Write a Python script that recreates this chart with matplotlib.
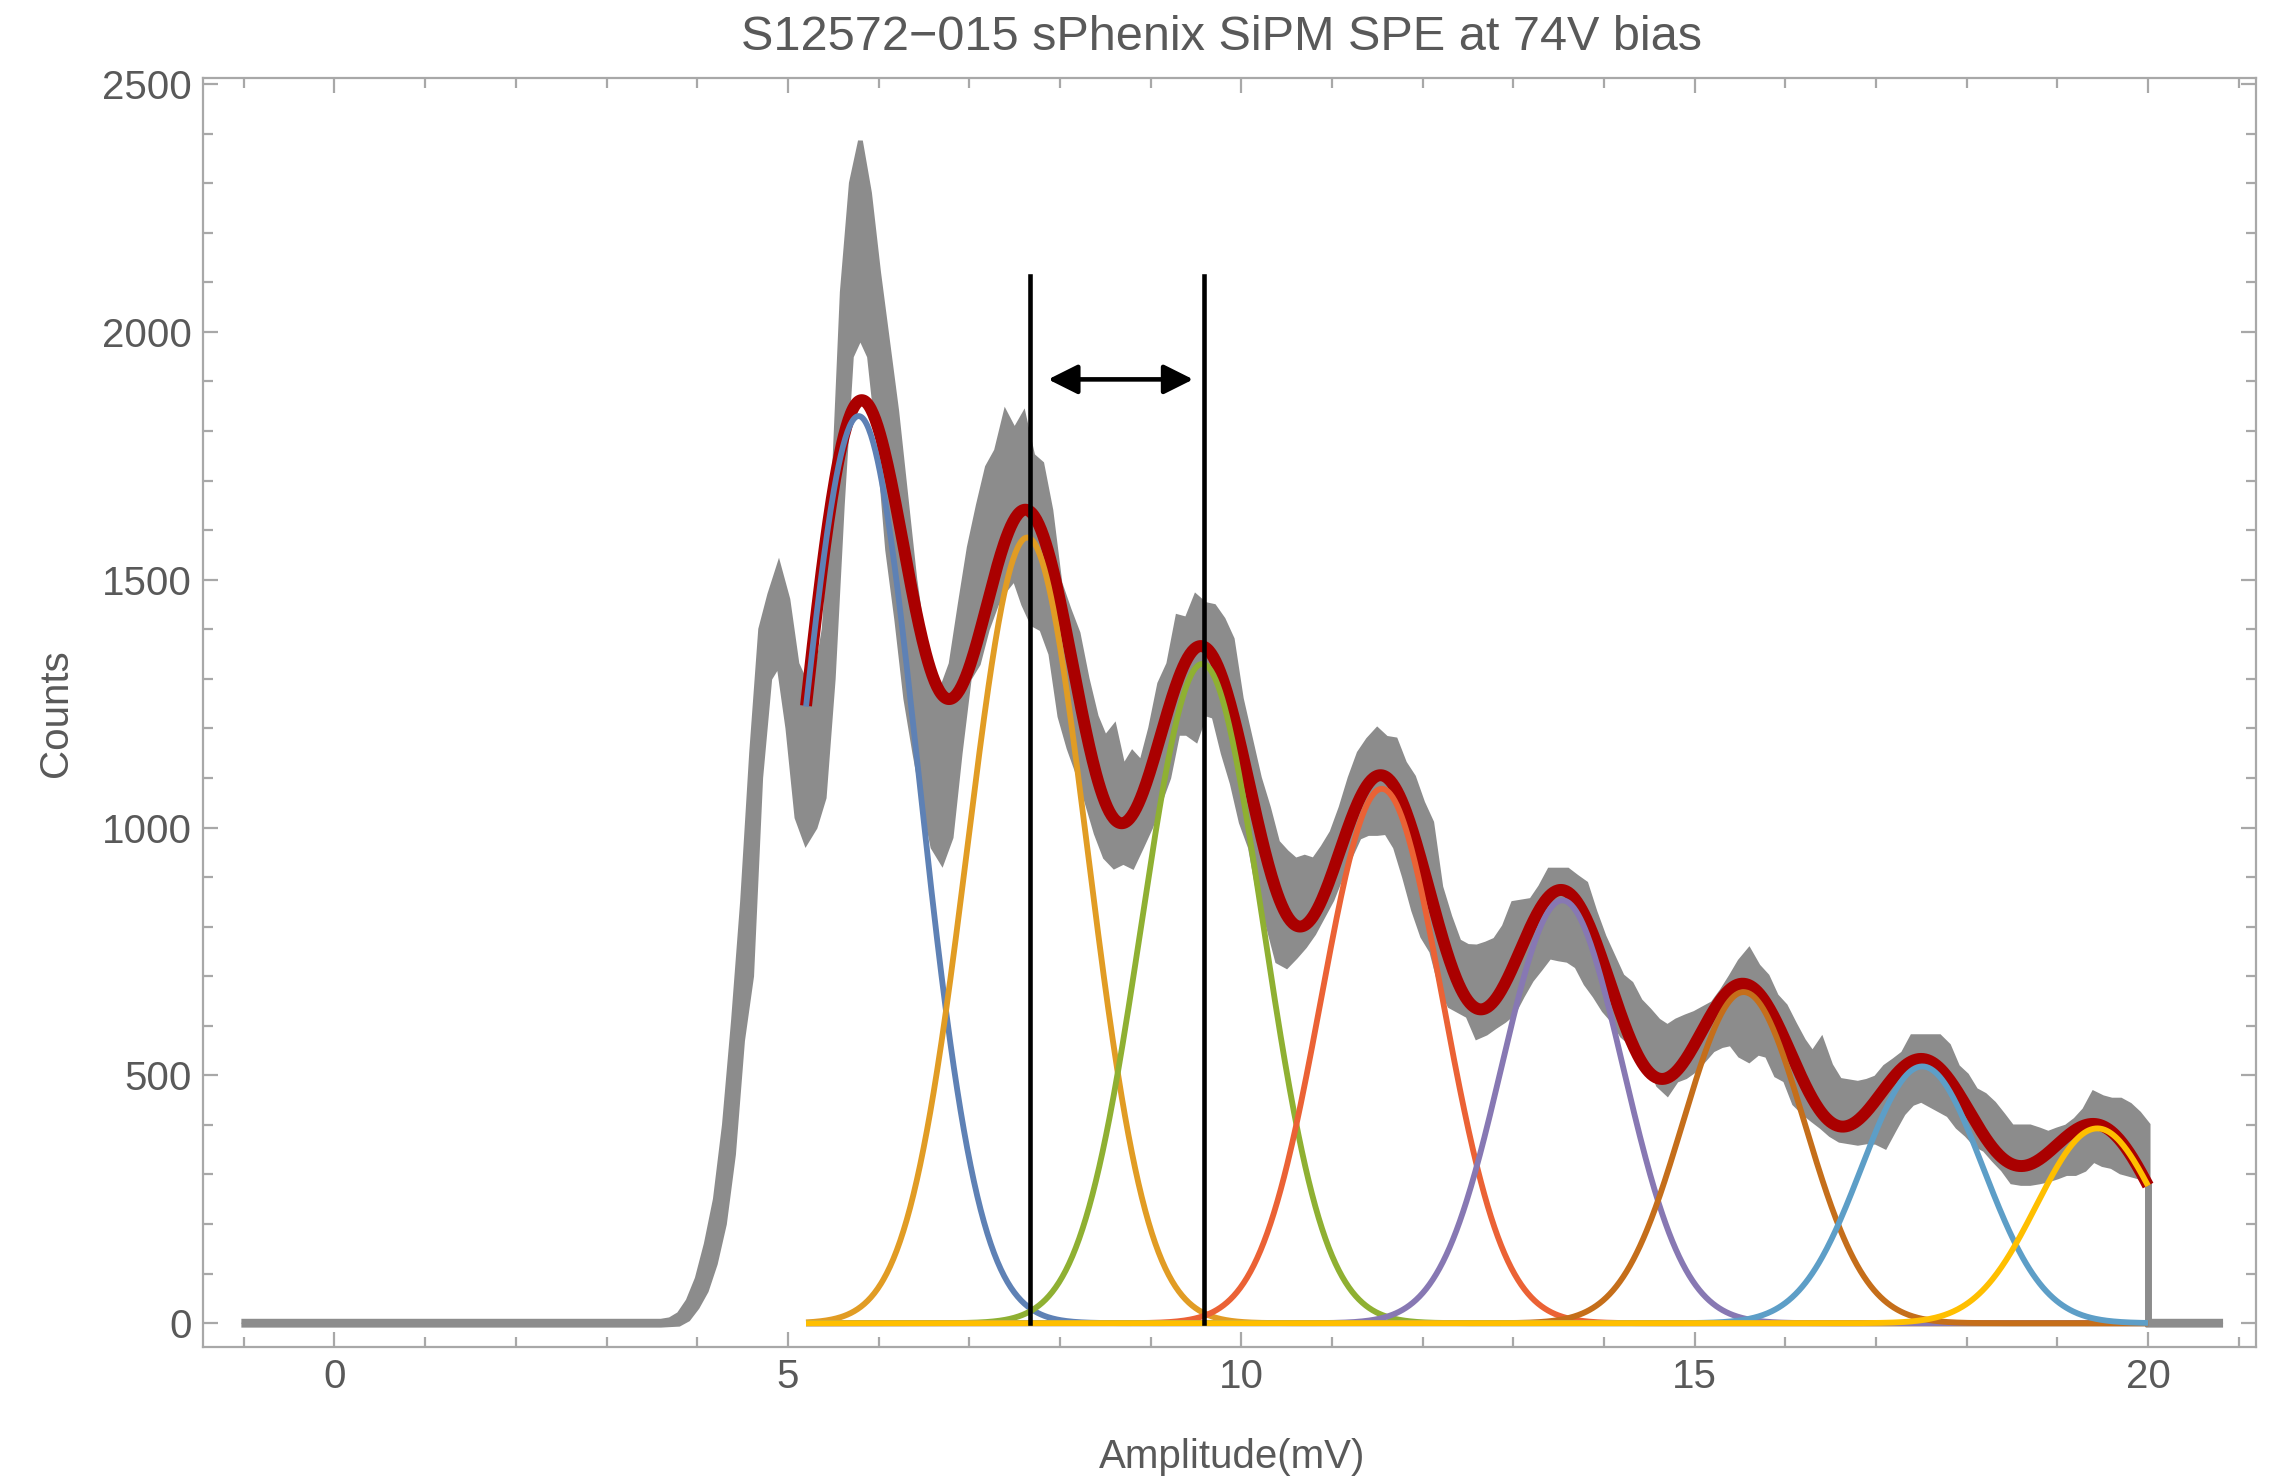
import numpy as np
import matplotlib
matplotlib.use("Agg")
import matplotlib.pyplot as plt
from matplotlib.patches import FancyArrowPatch
from matplotlib.ticker import MultipleLocator

# ---------------- data ----------------
title = "S12572\u2212015 sPhenix SiPM SPE at 74V bias"
xlabel = "Amplitude(mV)"
ylabel = "Counts"

# histogram band (upper / lower envelope of the noisy histogram), 0.1 mV bins 3.5 .. 20.0
hist_x = np.round(np.arange(3.5, 20.05, 0.1), 1)
hist_upper = [
    4, 4, 7, 18, 45, 90, 160, 250, 400, 610, 850, 1150, 1400, 1470, 1527,             # 3.5-4.9
    1460, 1330, 1290, 1290, 1400, 1660, 2080, 2300, 2385, 2280,                       # 5.0-5.9
    2120, 1980, 1840, 1670, 1500, 1370, 1290, 1280, 1330, 1450,                       # 6.0-6.9
    1565, 1650, 1727, 1760, 1835, 1800, 1832, 1750, 1734, 1640,                       # 7.0-7.9
    1493, 1440, 1392, 1300, 1224, 1180, 1203, 1120, 1150, 1130,                       # 8.0-8.9
    1200, 1290, 1330, 1425, 1420, 1466, 1450, 1446, 1420, 1380,                       # 9.0-9.9
    1260, 1180, 1100, 1040, 970, 950, 934, 940, 934, 960,                             # 10.0-10.9
    990, 1040, 1100, 1150, 1177, 1197, 1180, 1177, 1130, 1102,                        # 11.0-11.9
    1050, 1010, 880, 820, 770, 760, 759, 765, 773, 800,                               # 12.0-12.9
    847, 850, 853, 880, 914, 914, 914, 900, 887, 830,                                 # 13.0-13.9
    780, 740, 700, 685, 650, 631, 610, 598, 610, 618,                                 # 14.0-14.9
    625, 635, 645, 670, 699, 730, 752, 720, 700, 660,                                 # 15.0-15.9
    640, 604, 570, 544, 571, 520, 490, 487, 484, 488,                                 # 16.0-16.9
    495, 517, 530, 544, 578, 578, 578, 578, 560, 517,                                 # 17.0-17.9
    500, 470, 460, 443, 420, 396, 396, 396, 390, 383,                                 # 18.0-18.9
    390, 396, 410, 430, 464, 455, 450, 450, 440, 423,                                 # 19.0-19.9
    400,                                                                              # 20.0
]
hist_lower = [
    -4, -4, -3, -2, 8, 32, 65, 120, 200, 340, 570, 700, 1100, 1300, 1330,             # 3.5-4.9
    1200, 1020, 970, 1000, 1060, 1300, 1650, 1950, 1990, 1950,                        # 5.0-5.9
    1780, 1560, 1420, 1260, 1150, 1050, 960, 930, 980, 1150,                          # 6.0-6.9
    1300, 1330, 1400, 1450, 1480, 1503, 1450, 1410, 1400, 1350,                       # 7.0-7.9
    1224, 1160, 1109, 1050, 988, 940, 921, 930, 921, 960,                             # 8.0-8.9
    1000, 1050, 1100, 1190, 1190, 1177, 1230, 1224, 1150, 1089,                       # 9.0-9.9
    1010, 960, 860, 800, 730, 720, 739, 760, 786, 820,                                # 10.0-10.9
    854, 900, 940, 980, 988, 988, 990, 960, 900, 833,                                 # 11.0-11.9
    780, 750, 680, 640, 630, 620, 577, 585, 598, 610,                                 # 12.0-12.9
    625, 660, 692, 715, 739, 735, 732, 720, 685, 660,                                 # 13.0-13.9
    631, 610, 580, 564, 540, 524, 480, 463, 490, 497,                                 # 14.0-14.9
    510, 530, 551, 560, 564, 540, 530, 545, 540, 500,                                 # 15.0-15.9
    490, 443, 425, 410, 396, 380, 369, 366, 363, 366,                                 # 16.0-16.9
    365, 356, 390, 423, 443, 450, 440, 430, 420, 396,                                 # 17.0-17.9
    380, 360, 350, 329, 310, 285, 282, 282, 285, 289,                                 # 18.0-18.9
    295, 302, 302, 310, 329, 320, 316, 305, 300, 295,                                 # 19.0-19.9
    280,                                                                              # 20.0
]
hist_start = -1.0      # flat zero baseline starts here
hist_end = 20.8        # flat zero baseline after the cut at 20 mV

# Gaussian fit components (mean, amplitude, sigma)
peak_means = [5.78, 7.64, 9.57, 11.55, 13.54, 15.54, 17.51, 19.44]
peak_amps = [1830, 1585, 1330, 1078, 853, 668, 518, 393]
peak_sigmas = [0.66, 0.66, 0.67, 0.67, 0.67, 0.67, 0.67, 0.67]
fit_range = (5.2, 20.0)
peak_colors = ["#5E81B5", "#E19C24", "#8FB032", "#EB6235",
               "#8778B3", "#C56E1A", "#5D9EC7", "#FFBF00"]

# annotation: peak-to-peak spacing
marker_x = [7.67, 9.59]
marker_top = 2112
arrow_y = 1904
arrow_x = [7.87, 9.47]

# ---------------- figure ----------------
plt.rcParams["font.family"] = ["Liberation Sans", "DejaVu Sans"]
text_color = "#595959"
frame_color = "#a8a8a8"

fig = plt.figure(figsize=(22.8, 14.79), dpi=100)
ax = fig.add_axes([203 / 2280, 1 - 1347 / 1479, (2256 - 203) / 2280, (1347 - 78) / 1479])

gray = "#8c8c8c"
bx = np.concatenate([[hist_start], hist_x, [hist_x[-1], hist_end]])
bu = np.concatenate([[hist_upper[0]], hist_upper, [hist_upper[0], hist_upper[0]]])
bl = np.concatenate([[hist_lower[0]], hist_lower, [hist_lower[0], hist_lower[0]]])
ax.fill_between(bx, bl, bu, color=gray, lw=0, zorder=1)
ax.plot(bx, bu, color=gray, lw=3.5, solid_joinstyle="miter", zorder=1)
ax.plot(bx, bl, color=gray, lw=3.5, solid_joinstyle="miter", zorder=1)
ax.plot([hist_x[-1], hist_x[-1]], [0, hist_lower[-1]], color=gray, lw=5, zorder=1)

xf = np.linspace(fit_range[0], fit_range[1], 1200)
comps = [a * np.exp(-(xf - m) ** 2 / (2 * s ** 2))
         for m, a, s in zip(peak_means, peak_amps, peak_sigmas)]
total = np.sum(comps, axis=0)
ax.plot(xf, total, color="#AA0000", lw=8.6, solid_capstyle="butt", zorder=3)
for c, col in zip(comps, peak_colors):
    ax.plot(xf, c, color=col, lw=4.2, solid_capstyle="butt", zorder=4)

for mx in marker_x:
    ax.plot([mx, mx], [0, marker_top], color="black", lw=3.3, zorder=6)
arr = FancyArrowPatch((arrow_x[0], arrow_y), (arrow_x[1], arrow_y),
                      arrowstyle="<|-|>,head_length=1.0,head_width=0.5",
                      mutation_scale=18, lw=3.3, color="black",
                      shrinkA=0, shrinkB=0, zorder=6)
ax.add_patch(arr)

ax.set_xlim(-1.45, 21.19)
ax.set_ylim(-48, 2512)
ax.xaxis.set_major_locator(MultipleLocator(5))
ax.xaxis.set_minor_locator(MultipleLocator(1))
ax.yaxis.set_major_locator(MultipleLocator(500))
ax.yaxis.set_minor_locator(MultipleLocator(100))
ax.tick_params(which="both", direction="in", top=True, right=True,
               color=frame_color, width=1.6)
ax.tick_params(which="major", length=11, labelsize=29, labelcolor=text_color, pad=8)
ax.tick_params(which="minor", length=7)
for sp in ax.spines.values():
    sp.set_color(frame_color)
    sp.set_linewidth(1.6)

fig.text(1221 / 2280, 1 - 38 / 1479, title, ha="center", va="center",
         fontsize=35, color=text_color)
fig.text(1232 / 2280, 1 - 1457 / 1479, xlabel, ha="center", va="center",
         fontsize=29, color=text_color)
fig.text(56 / 2280, 1 - 713 / 1479, ylabel, ha="center", va="center",
         rotation=90, fontsize=29, color=text_color)

fig.savefig("out.png", dpi=100)
